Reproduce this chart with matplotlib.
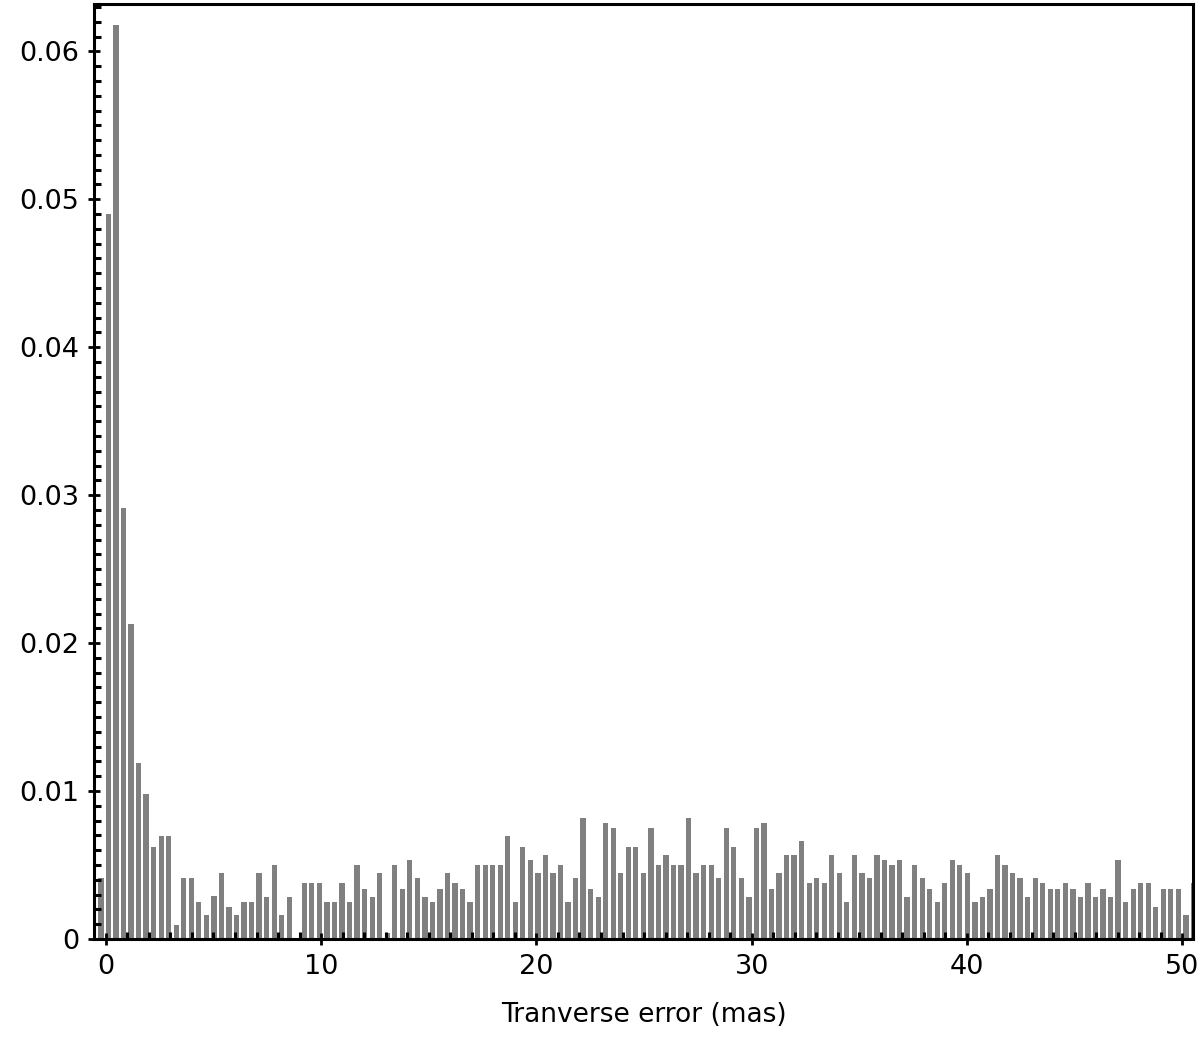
import matplotlib
matplotlib.use("Agg")
import matplotlib.pyplot as plt
from matplotlib.ticker import MultipleLocator, FixedLocator
import numpy as np

# Histogram of transverse error (mas): bin width and first bin centre
bin_width = 0.35
first_center = -0.23

frequency = [
    0.00414, 0.0490, 0.0618, 0.0291, 0.0213, 0.01191, 0.0098, 0.00624, 0.00696, 0.00696,
    0.00095, 0.0041, 0.0041, 0.00252, 0.00162, 0.0029, 0.00444, 0.00218, 0.00162, 0.00252,
    0.00252, 0.00444, 0.00286, 0.0050, 0.00162, 0.00286, 0.0, 0.00376, 0.00376, 0.00376,
    0.00252, 0.00252, 0.00376, 0.00252, 0.0050, 0.00338, 0.00286, 0.00444, 0.00038, 0.0050,
    0.00338, 0.00534, 0.0041, 0.00286, 0.00252, 0.0034, 0.00446, 0.00376, 0.0034, 0.00252,
    0.0050, 0.0050, 0.0050, 0.0050, 0.00696, 0.00252, 0.00624, 0.00534, 0.00446, 0.0057,
    0.00446, 0.0050, 0.00252, 0.0041, 0.0082, 0.0034, 0.00286, 0.00782, 0.00748, 0.00446,
    0.00624, 0.00624, 0.00446, 0.00748, 0.0050, 0.0057, 0.0050, 0.0050, 0.0082, 0.00446,
    0.0050, 0.0050, 0.0041, 0.00748, 0.00624, 0.0041, 0.00286, 0.00748, 0.00782, 0.0034,
    0.00446, 0.0057, 0.0057, 0.0066, 0.00376, 0.0041, 0.00376, 0.0057, 0.00446, 0.00252,
    0.0057, 0.00446, 0.0041, 0.0057, 0.00534, 0.0050, 0.00534, 0.00286, 0.0050, 0.0041,
    0.0034, 0.00252, 0.00376, 0.00534, 0.0050, 0.00446, 0.00252, 0.00286, 0.0034, 0.0057,
    0.0050, 0.00446, 0.0041, 0.00286, 0.0041, 0.00376, 0.0034, 0.0034, 0.00376, 0.0034,
    0.00286, 0.00376, 0.00286, 0.0034, 0.00286, 0.00534, 0.00252, 0.0034, 0.00376, 0.00376,
    0.00216, 0.0034, 0.0034, 0.0034, 0.00162, 0.00376,
]

x_label = "Tranverse error (mas)"
x_ticks = [0, 10, 20, 30, 40, 50]
y_ticks = [0, 0.01, 0.02, 0.03, 0.04, 0.05, 0.06]
y_tick_labels = ["0", "0.01", "0.02", "0.03", "0.04", "0.05", "0.06"]

centers = first_center + bin_width * np.arange(len(frequency))

plt.rcParams["font.family"] = ["DejaVu Sans"]
fig = plt.figure(figsize=(12, 10.39), dpi=100)
ax = fig.add_axes([94 / 1200, 1 - 939 / 1039, (1193 - 94) / 1200, (939 - 4) / 1039])

ax.bar(centers, frequency, width=bin_width * 0.7, color="#808080", linewidth=0)

ax.set_xlim(-0.55, 50.5)
ax.set_ylim(0, 0.0632)

ax.xaxis.set_major_locator(FixedLocator(x_ticks))
ax.xaxis.set_minor_locator(MultipleLocator(1))
ax.yaxis.set_major_locator(FixedLocator(y_ticks))
ax.set_yticklabels(y_tick_labels)
ax.yaxis.set_minor_locator(MultipleLocator(0.001))

for s in ax.spines.values():
    s.set_linewidth(2.2)
    s.set_color("black")

ax.tick_params(which="major", direction="inout", length=9, width=2,
               labelsize=19.5, pad=6, top=False, right=False)
ax.tick_params(which="minor", direction="in", length=5, width=2.2,
               top=False, right=False)

ax.set_xlabel(x_label, fontsize=19, labelpad=16)

fig.savefig("out.png", dpi=100)
